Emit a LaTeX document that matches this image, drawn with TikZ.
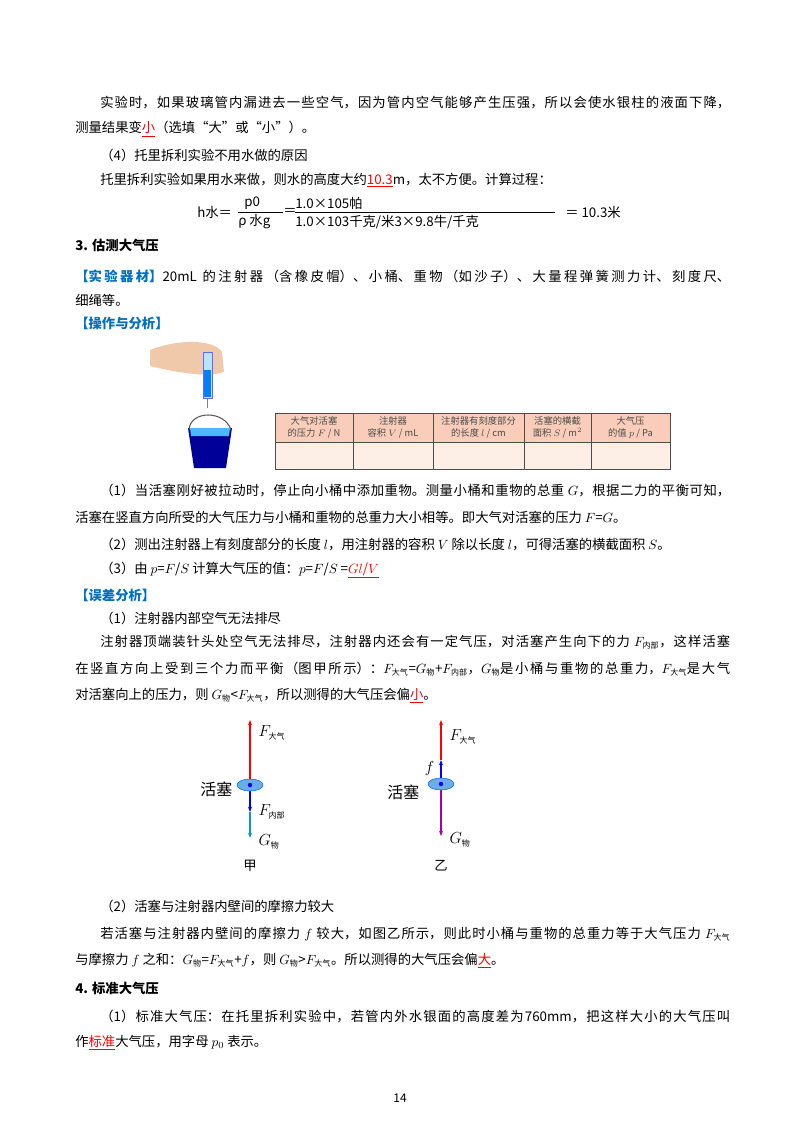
\documentclass[tikz,border=0pt]{standalone}
\usepackage{fontspec}
\setmainfont{Noto Sans CJK SC}
\usetikzlibrary{arrows.meta, positioning, calc}
\XeTeXlinebreaklocale "zh"
\XeTeXlinebreakskip=0pt plus 1pt
\definecolor{headblue}{RGB}{0,112,192}
\definecolor{tablehead}{RGB}{249,205,185}
\definecolor{tablebody}{RGB}{253,238,230}
\definecolor{skin}{RGB}{240,200,170}
\newcommand{\ans}[1]{\textcolor{red}{\underline{#1}}}
\newcommand{\sbx}[1]{_{\mbox{\fontsize{6pt}{6pt}\selectfont #1}}}
\newcommand{\nofill}{\parfillskip=0pt\relax}
\tikzset{
  txt/.style={anchor=west, inner sep=0pt, font=\fontsize{10pt}{12pt}\selectfont},
  parA/.style={txt, text width=472.5pt, align=justify, execute at begin node=\nofill},
  parB/.style={txt, text width=491.25pt, align=justify, execute at begin node=\nofill},
  head/.style={txt, font=\fontsize{10pt}{12pt}\selectfont\bfseries},
  tag/.style={text=headblue, font=\bfseries},
  force/.style={-{Stealth[length=4pt]}, line width=0.9pt},
  piston/.style={draw=blue!60!cyan, fill=cyan!70!blue!60, line width=0.4pt},
  flabel/.style={anchor=west, inner sep=1pt, font=\fontsize{12pt}{14pt}\selectfont}
}
\begin{document}
\begin{tikzpicture}[x=0.75pt, y=-0.75pt]
\useasboundingbox (0,0) rectangle (800,1132);

% Text
\node[parA] (l1) at (100,103) {实验时，如果玻璃管内漏进去一些空气，因为管内空气能够产生压强，所以会使水银柱的液面下降，};
\node[txt] (l2) at (75,129) {测量结果变\ans{小}（选填“大”或“小”）。};
\node[txt] (l3) at (100,155) {（4）托里拆利实验不用水做的原因};
\node[txt] (l4) at (100,180) {托里拆利实验如果用水来做，则水的高度大约\ans{10.3}m，太不方便。计算过程：};

% Formula
\node[txt] (hw) at (197,212) {h水＝};
\node[txt] (num1) at (244,203) {p0};
\node[txt] (den1) at (238,222) {ρ 水g};
\draw[line width=0.5pt] (238,212) -- (283,212);
\node[txt] (eq1) at (283,212) {＝};
\node[txt] (num2) at (295,203) {1.0×105帕};
\node[txt] (den2) at (295,222) {1.0×103千克/米3×9.8牛/千克};
\draw[line width=0.5pt] (295,212) -- (555,212);
\node[txt] (res) at (565,212) {＝ 10.3米};

\node[head] (s3) at (75,245) {3. 估测大气压};
\node[parB] (l5) at (75,276) {\textcolor{headblue}{\bfseries【实验器材】}20mL 的注射器（含橡皮帽）、小桶、重物（如沙子）、大量程弹簧测力计、刻度尺、};
\node[txt] (l6) at (75,300) {细绳等。};
\node[txt, tag] (op) at (75,323) {【操作与分析】};

% Hand, syringe and bucket
\fill[skin] (150,350) .. controls (180,338) and (215,340) .. (222,352) -- (224,372) .. controls (205,378) and (175,372) .. (150,366) -- cycle;
\draw[fill=cyan!30, draw=blue!60] (203,352) rectangle (212,398);
\fill[blue!50!cyan] (204,370) rectangle (211,397);
\draw[gray, line width=0.8pt] (207.5,398) -- (207.5,408);
\fill[blue!60!black] (188,428) -- (232,428) -- (226,468) -- (194,468) -- cycle;
\fill[blue!40!cyan!70] (190,428) -- (230,428) -- (229,436) -- (191,436) -- cycle;
\draw[gray!70!black, line width=0.8pt] (189,430) .. controls (190,410) and (225,410) .. (231,430);

% Table
\fill[tablehead] (275,413) rectangle (670,442);
\fill[tablebody] (275,442) rectangle (670,469);
\draw[gray!60!black, line width=0.6pt] (275,413) rectangle (670,469) (275,442) -- (670,442);
\foreach \xc in {353,433,524,591} \draw[gray!60!black, line width=0.6pt] (\xc,413) -- (\xc,469);
\foreach \xa/\xb/\name/\cont in {275/353/c1/{大气对活塞\\的压力 $F$ / N}, 353/433/c2/{注射器\\容积 $V$ / mL}, 433/524/c3/{注射器有刻度部分\\的长度 $l$ / cm}, 524/591/c4/{活塞的横截\\面积 $S$ / m$^2$}, 591/670/c5/{大气压\\的值 $p$ / Pa}}
  \node[align=center, inner sep=0pt, text=gray!60!black, font=\fontsize{7pt}{8.5pt}\selectfont] (\name) at ({(\xa+\xb)/2},427.5) {\cont};

\node[parA] (l7) at (100,490) {（1）当活塞刚好被拉动时，停止向小桶中添加重物。测量小桶和重物的总重 $G$，根据二力的平衡可知，};
\node[txt] (l8) at (75,517) {活塞在竖直方向所受的大气压力与小桶和重物的总重力大小相等。即大气对活塞的压力 $F$=$G$。};
\node[txt] (l9) at (100,544) {（2）测出注射器上有刻度部分的长度 $l$，用注射器的容积 $V$ 除以长度 $l$，可得活塞的横截面积 $S$。};
\node[txt] (l10) at (100,570) {（3）由 $p$=$F$/$S$ 计算大气压的值：$p$=$F$/$S$ =\ans{$Gl$/$V$}};
\node[txt, tag] (err) at (75,595) {【误差分析】};
\node[txt] (l11) at (100,618) {（1）注射器内部空气无法排尽};
\node[parA] (l12) at (100,642) {注射器顶端装针头处空气无法排尽，注射器内还会有一定气压，对活塞产生向下的力 $F\sbx{内部}$，这样活塞};
\node[parB] (l13) at (75,669) {在竖直方向上受到三个力而平衡（图甲所示）：$F\sbx{大气}$=$G\sbx{物}$+$F\sbx{内部}$，$G\sbx{物}$是小桶与重物的总重力，$F\sbx{大气}$是大气};
\node[txt] (l14) at (75,696) {对活塞向上的压力，则 $G\sbx{物}$<$F\sbx{大气}$，所以测得的大气压会偏\ans{小}。};

% Force diagram A
\coordinate (pa) at (250,785);
\coordinate (pa1) at (250,812);
\draw[force, red] (pa) -- (250,720);
\draw[force, blue] (pa) -- (pa1);
\draw[force, cyan!80!blue] (pa1) -- (250,838);
\draw[piston] (pa) ellipse (13 and 6);
\fill[blue] (pa) circle (2.2);
\node[flabel] (fa1) at (257,733) {$F\sbx{大气}$};
\node[flabel, anchor=east] (pta) at (234,789) {活塞};
\node[flabel] (fa2) at (257,812) {$F\sbx{内部}$};
\node[flabel] (fa3) at (257,842) {$G\sbx{物}$};
\node[inner sep=0pt, font=\fontsize{10pt}{12pt}\selectfont] (ja) at (250,866) {甲};

% Force diagram B
\coordinate (pb) at (441,784);
\coordinate (pb1) at (441,760);
\draw[force, red] (pb1) -- (441,720);
\draw[force, blue] (pb) -- (pb1);
\draw[force, violet!70!magenta] (pb) -- (441,836);
\draw[piston] (pb) ellipse (13 and 6);
\fill[blue] (pb) circle (2.2);
\node[flabel] (fb1) at (448,737) {$F\sbx{大气}$};
\node[flabel, anchor=east] (fb0) at (436,768) {$f$};
\node[flabel, anchor=east] (ptb) at (421,792) {活塞};
\node[flabel] (fb3) at (448,840) {$G\sbx{物}$};
\node[inner sep=0pt, font=\fontsize{10pt}{12pt}\selectfont] (jb) at (441,866) {乙};

\node[txt] (l15) at (100,906) {（2）活塞与注射器内壁间的摩擦力较大};
\node[parA] (l16) at (100,934) {若活塞与注射器内壁间的摩擦力 $f$ 较大，如图乙所示，则此时小桶与重物的总重力等于大气压力 $F\sbx{大气}$};
\node[txt] (l17) at (75,961) {与摩擦力 $f$ 之和：$G\sbx{物}$=$F\sbx{大气}$+$f$，则 $G\sbx{物}$>$F\sbx{大气}$。所以测得的大气压会偏\ans{大}。};
\node[head] (s4) at (75,988) {4. 标准大气压};
\node[parA] (l18) at (100,1016) {（1）标准大气压：在托里拆利实验中，若管内外水银面的高度差为760mm，把这样大小的大气压叫};
\node[txt] (l19) at (75,1043) {作\ans{标准}大气压，用字母 $p_0$ 表示。};
\node[inner sep=0pt, font=\fontsize{9pt}{10pt}\selectfont] (pg) at (400,1098) {14};
\end{tikzpicture}
\end{document}
